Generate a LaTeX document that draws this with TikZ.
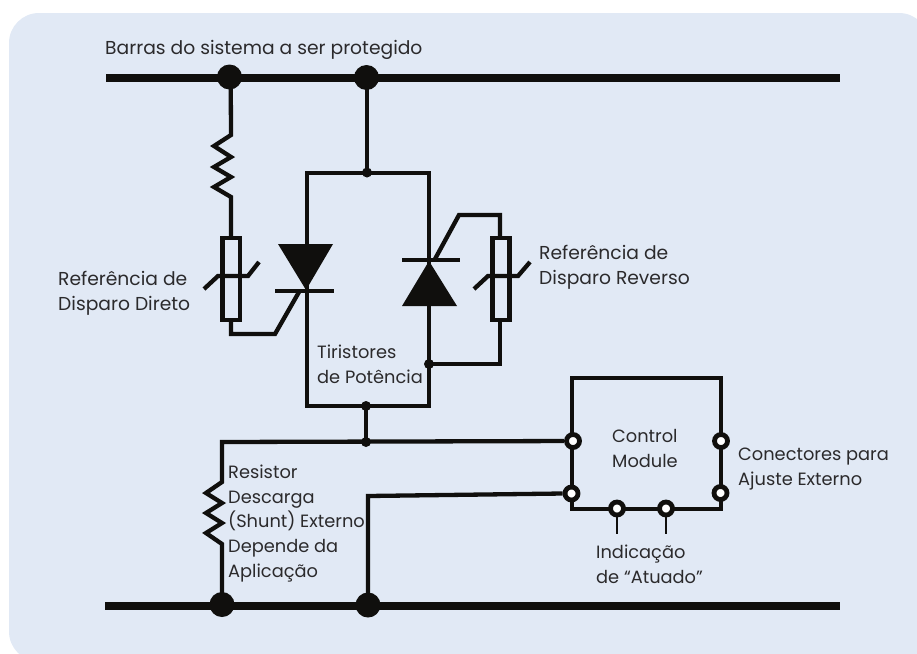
\documentclass[tikz,border=0pt]{standalone}
\usepackage{fontspec}
\setmainfont{Poppins}
\definecolor{panel}{HTML}{E1E9F5}
\definecolor{ink}{HTML}{100F0D}
\definecolor{txt}{HTML}{2B2A2C}
\tikzset{
 wire/.style={draw=ink,line width=4.3pt,line join=miter,line cap=butt},
 bus/.style={draw=ink,line width=8pt},
 bigdot/.style={circle,fill=ink,inner sep=0pt,minimum size=25pt},
 smalldot/.style={circle,fill=ink,inner sep=0pt,minimum size=10pt},
 port/.style={circle,draw=ink,fill=white,line width=4.8pt,inner sep=0pt,minimum size=13pt},
 lbl/.style={text=txt,font=\fontsize{17.8}{24.6}\selectfont,align=left,anchor=base west,inner sep=0pt},
 lblbig/.style={lbl,font=\fontsize{18.7}{24.8}\selectfont},
 solidtri/.style={fill=ink,draw=none},
 tick/.style={draw=ink,line width=2.8pt},
}
\begin{document}
\begin{tikzpicture}[x=1pt,y=-1pt]
\useasboundingbox (0,0) rectangle (917,653);
\fill[panel,rounded corners=30pt] (9,13) -- (929,13) -- (929,661.5) -- (9,661.5) -- cycle;
% junction nodes
\node[bigdot] (t1) at (229.5,77) {};
\node[bigdot] (t2) at (366.5,77.5) {};
\node[bigdot] (b1) at (222,604.5) {};
\node[bigdot] (b2) at (368,605) {};
\coordinate (tl) at (106,78); \coordinate (tr) at (840,78);
\coordinate (bl) at (105,605.5); \coordinate (br) at (840,605.5);
\draw[bus] (tl) -- (tr);
\draw[bus] (bl) -- (br);
\node[smalldot] (j1) at (367,172.5) {};
\node[smalldot] (j2) at (366,406) {};
\node[smalldot] (j3) at (366,442) {};
\node[smalldot] (j4) at (429,364) {};
% left branch
\draw[wire] (230.7,77) -- (231,135) -- (214,146) -- (231,157) -- (214,167) -- (231,177) -- (214,187) -- (231,197) -- (231,238);
\draw[wire] (222.5,238) rectangle (240,320);
\draw[wire] (204,289) -- (218,276) -- (248,276) -- (259,262);
\draw[wire] (231,320) -- (231,334) -- (275,334) -- (299,292);
% thyristor loop
\draw[wire] (j1.center) -- (367,77);
\draw[wire] (307,290) -- (307,173) -- (429,173) -- (429,406) -- (307,406) -- cycle;
\fill[solidtri] (278,244) -- (333,244) -- (306,290) -- cycle;
\draw[wire] (275,291) -- (334,291);
\fill[solidtri] (402,306) -- (457,306) -- (429,261) -- cycle;
\draw[wire] (402,260) -- (460,260);
\draw[wire] (435,259) -- (459,215) -- (500,215) -- (500,238);
\draw[wire] (492.5,238) rectangle (509.5,320);
\draw[wire] (474,289) -- (488,276) -- (518,276) -- (530,262);
\draw[wire] (500,320) -- (500,364) -- (j4.center);
% lower wiring
\draw[wire] (j2.center) -- (j3.center);
% module
\draw[wire] (572,378) rectangle (721,509);
\node[port] (p1) at (573,441) {};
\node[port] (p2) at (571.5,493.5) {};
\node[port] (p3) at (617,508.5) {};
\node[port] (p4) at (666,508.5) {};
\node[port] (p5) at (721,441) {};
\node[port] (p6) at (720.5,493) {};
\draw[wire] (p1) -- (222,442) -- (222,482) -- (206,493) -- (222,503) -- (206,513) -- (222,523) -- (206,533) -- (222,544) -- (b1.center);
\draw[wire] (p2.west) -- (368,496) -- (b2.center);
\coordinate (q3) at (617,534); \coordinate (q4) at (666,534);
\draw[tick] (p3) -- (q3);
\draw[tick] (p4) -- (q4);
% labels
\node[lblbig] (L1) at (105,54) {Barras do sistema a ser protegido};
\node[lblbig] (L2) at (58,310) {Referência de\\Disparo Direto};
\node[lblbig] (L3) at (539,284) {Referência de\\Disparo Reverso};
\node[lbl] (L4) at (317,383) {Tiristores\\de Potência};
\node[lbl] (L5) at (228,577) {Resistor\\Descarga\\(Shunt) Externo\\Depende da\\Aplicação};
\node[lbl] (L6) at (612,467) {Control\\Module};
\node[lbl] (L7) at (738,485) {Conectores para\\Ajuste Externo};
\node[lbl] (L8) at (596,583) {Indicação\\de “Atuado”};
\end{tikzpicture}
\end{document}
